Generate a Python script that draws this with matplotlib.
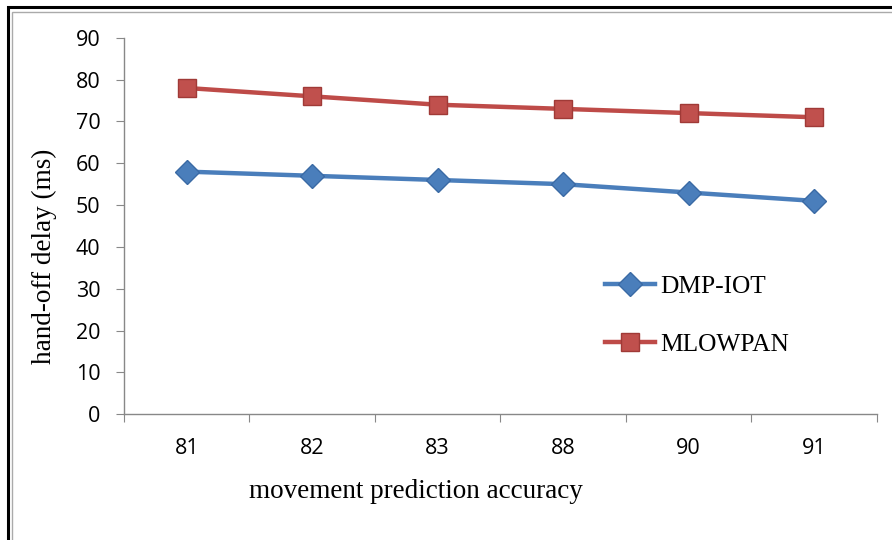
import matplotlib.pyplot as plt
from matplotlib.patches import Rectangle

categories = ["81", "82", "83", "88", "90", "91"]
dmp_iot = [58, 57, 56, 55, 53, 51]
mlowpan = [78, 76, 74, 73, 72, 71]
y_ticks = list(range(0, 100, 10))

fig = plt.figure(figsize=(8.92, 5.40), dpi=100)
ax = fig.add_axes([0.139, 0.233, 0.844, 0.697])

# outer frame of the picture
fig.patches.append(Rectangle((0.009, -0.02), 1.2, 1.007, transform=fig.transFigure,
                             fill=False, edgecolor="black", linewidth=2.2))
fig.patches.append(Rectangle((0.014, -0.02), 1.2, 0.997, transform=fig.transFigure,
                             fill=False, edgecolor="#aaaaaa", linewidth=1.0))

x = list(range(len(categories)))
ax.plot(x, dmp_iot, color="#4A7EBB", linewidth=3.2, marker="D", markersize=12,
        markerfacecolor="#4A7EBB", markeredgecolor="#3A6AA5", label="DMP-IOT")
ax.plot(x, mlowpan, color="#BE4B48", linewidth=3.2, marker="s", markersize=12.5,
        markerfacecolor="#C0504D", markeredgecolor="#A03A37", label="MLOWPAN")

ax.set_xlim(-0.5, len(categories) - 0.5)
ax.set_ylim(0, 90)
ax.set_yticks(y_ticks)
ax.set_xticks([i - 0.5 for i in range(len(categories) + 1)], minor=False)
ax.set_xticklabels([])
ax.set_xticks(x, minor=True)
ax.set_xticklabels(categories, minor=True)
ax.tick_params(axis="x", which="minor", length=0, pad=17, labelsize=15.5)
ax.tick_params(axis="x", which="major", length=6, direction="out", color="#888888")
ax.tick_params(axis="y", length=6, direction="out", color="#888888", labelsize=15.5, pad=11)
for lab in ax.get_xticklabels(minor=True) + ax.get_yticklabels():
    lab.set_fontfamily("Open Sans")

for s in ["top", "right"]:
    ax.spines[s].set_visible(False)
for s in ["left", "bottom"]:
    ax.spines[s].set_color("#888888")
    ax.spines[s].set_linewidth(1.0)

fig.text(0.466, 0.089, "movement prediction accuracy", fontfamily="Liberation Serif",
         fontsize=19.5, ha="center", va="center")
fig.text(0.05, 0.525, "hand-off delay (ms)", fontfamily="Liberation Serif",
         fontsize=19.5, ha="center", va="center", rotation=90)

ax.legend(loc="center left", bbox_to_anchor=(0.608, 0.262), frameon=False,
          prop={"family": "Liberation Serif", "size": 18.3}, labelspacing=1.4,
          handlelength=2.0, handletextpad=0.2)

fig.savefig("out.png", dpi=100)
